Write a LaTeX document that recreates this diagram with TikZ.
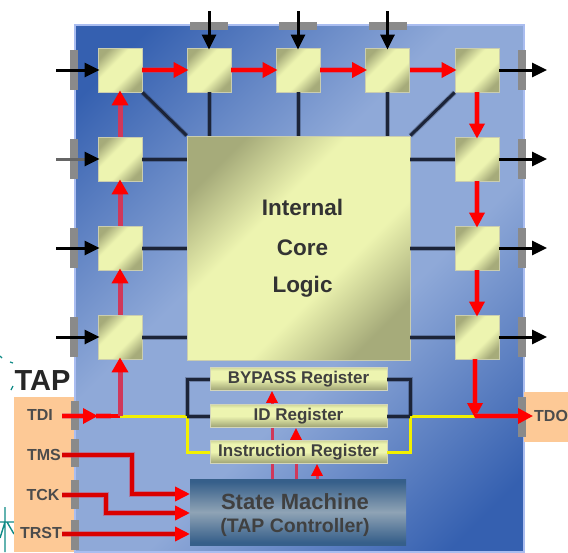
\documentclass[tikz,border=0pt]{standalone}
\usepackage{fontspec}
\setmainfont{Liberation Sans}
\usetikzlibrary{arrows.meta}
\definecolor{paneldark}{HTML}{3560B0}
\definecolor{panellight}{HTML}{8FA9D8}
\definecolor{paneledge}{HTML}{AABDF0}
\definecolor{olive}{HTML}{A6AB7A}
\definecolor{pale}{HTML}{EDF4B0}
\definecolor{peach}{HTML}{FDC996}
\definecolor{pinbar}{HTML}{8A8A8A}
\definecolor{wiredark}{HTML}{1C2438}
\definecolor{crimson}{HTML}{D0385A}
\definecolor{scanyellow}{HTML}{F2F000}
\definecolor{smdark}{HTML}{365F8A}
\definecolor{smlight}{HTML}{8FA3B5}
\definecolor{tealmark}{HTML}{0E8A86}
\pgfdeclarehorizontalshading{panelshade}{100bp}{color(0bp)=(paneldark);color(20bp)=(paneldark);color(42bp)=(panellight);color(58bp)=(panellight);color(80bp)=(paneldark);color(100bp)=(paneldark)}
\pgfdeclarehorizontalshading{cellshade}{100bp}{color(0bp)=(olive);color(24bp)=(olive);color(40bp)=(pale);color(60bp)=(pale);color(76bp)=(olive);color(100bp)=(olive)}
\pgfdeclareverticalshading{regshade}{100bp}{color(0bp)=(olive);color(28bp)=(olive);color(50bp)=(pale);color(68bp)=(pale);color(80bp)=(olive!70!pale);color(100bp)=(olive!70!pale)}
\pgfdeclareverticalshading{smshade}{100bp}{color(0bp)=(smdark);color(27bp)=(smdark);color(50bp)=(smlight);color(73bp)=(smdark);color(100bp)=(smdark)}
\tikzset{
  cellbox/.style={draw=olive!60!white,line width=.8pt,minimum width=44,minimum height=44,inner sep=0,shading=cellshade,shading angle=-45},
  corebox/.style={cellbox,minimum width=223,minimum height=224},
  regbox/.style={draw=olive!50!white,line width=.8pt,minimum width=177,minimum height=23,inner sep=0,shading=regshade,font=\bfseries\fontsize{17}{18}\selectfont,text=black!75},
  smbox/.style={minimum width=216,minimum height=66,inner sep=0,shading=smshade},
  smtext/.style={font=\bfseries\fontsize{#1}{#1}\selectfont,text=black!75,inner sep=0},
  coretext/.style={font=\bfseries\fontsize{22.5}{24}\selectfont,text=black!80,inner sep=0},
  tapbox/.style={fill=peach,inner sep=0},
  pinlabel/.style={font=\bfseries\fontsize{16}{17}\selectfont,text=black!70,inner sep=0},
  pinv/.style={fill=pinbar,inner sep=0,minimum width=7.5,minimum height=#1},
  pinh/.style={fill=pinbar,inner sep=0,minimum width=#1,minimum height=8},
  halo/.style 2 args={preaction={draw=#1,opacity=.45,line width=#2,arrows=-,shorten >=9pt}},
  sigarrow/.style={draw=black,line width=3pt,shorten >=-2pt,-{Triangle[length=15,width=14]}},
  greyarrow/.style={draw=black!60,line width=3pt,shorten >=-2pt,-{Triangle[length=15,width=14,color=black]}},
  scanarrow/.style={draw=red,line width=3.4pt,shorten >=-2pt,halo={crimson}{6pt},-{Triangle[length=15,width=15]}},
  uparrow/.style={draw=crimson,line width=5pt,shorten >=-2pt,-{Triangle[length=15,width=16,color=red]}},
  thinarrow/.style={draw=crimson,line width=3pt,-{Triangle[length=12,width=11,color=red]}},
  stubline/.style={draw=crimson,line width=3pt},
  ctlarrow/.style={draw=red!85!black,line width=3.6pt,halo={crimson}{5.5pt},-{Triangle[length=15,width=14,color=red]}},
  corewire/.style={draw=wiredark,line width=3pt,preaction={draw=wiredark,opacity=.3,line width=5pt}},
  yelwire/.style={draw=scanyellow,line width=3pt},
}
\begin{document}
\begin{tikzpicture}[x=1pt,y=-1pt]
\useasboundingbox (0,0) rectangle (568,552);
% cropped marks at the left edge
\draw[tealmark,line width=1.2pt] (0,356)--(2,358) (10,362)--(13,363) (13,386)--(11,390);
\draw[tealmark,line width=1.4pt] (5,507)--(5,552) (0,522)--(14,522) (5,522)--(0,538) (7,522)--(14,534);
% panel
\node[draw=paneledge,line width=2pt,shading=panelshade,shading angle=-45,minimum width=449,minimum height=527,inner sep=0] (panel) at (299.5,288.5) {};
% peach tabs
\node[tapbox,minimum width=60,minimum height=155] (tap) at (44,474.5) {};
\node[tapbox,minimum width=44,minimum height=50] (tdotab) at (546,417) {};
\node[font=\bfseries\fontsize{29}{30}\selectfont,text=black!85,inner sep=0] (taptitle) at (42.5,381) {TAP};
% pin bars
\foreach \n/\y in {l1/70,l2/159,l3/248,l4/337}{\node[pinv=40] (bar\n) at (74,\y) {};}
\foreach \n/\y in {r1/70,r2/159,r3/248,r4/337}{\node[pinv=40] (bar\n) at (522,\y) {};}
\foreach \n/\x in {t2/209,t3/298,t4/387.5}{\node[pinh=38] (bar\n) at (\x,25.5) {};}
\node[pinv=29] (bartdi) at (75,415) {};
\node[pinv=28] (bartms) at (75,453) {};
\node[pinv=29] (bartck) at (75,494) {};
\node[pinv=30] (bartrst) at (75,535) {};
\node[pinv=40] (bartdo) at (522,417) {};
% boundary cells
\node[corebox] (core) at (298.5,248) {};
\node[cellbox] (c1) at (120,70) {};
\node[cellbox] (c2) at (209,70) {};
\node[cellbox] (c3) at (298,70) {};
\node[cellbox] (c4) at (387.5,70) {};
\node[cellbox] (c5) at (477,70) {};
\node[cellbox] (l2) at (120,159) {};
\node[cellbox] (l3) at (120,248) {};
\node[cellbox] (l4) at (120,337) {};
\node[cellbox] (r2) at (477,159) {};
\node[cellbox] (r3) at (477,248) {};
\node[cellbox] (r4) at (477,337) {};
\node[coretext] (t1) at (302.5,207) {Internal};
\node[coretext] (t2) at (302.5,248) {Core};
\node[coretext] (t3) at (302.5,287) {Logic};
% registers
\node[regbox] (byp) at (298.5,379) {BYPASS Register};
\node[regbox] (idr) at (298.5,416) {ID Register};
\node[regbox] (ins) at (298.5,452) {Instruction Register};
\node[smbox] (sm) at (298,512) {};
\node[smtext=22] (smt1) at (295,502) {State Machine};
\node[smtext=19.5] (smt2) at (295,527) {(TAP Controller)};
% pin labels
\node[pinlabel] (ltdi) at (40,415) {TDI};
\node[pinlabel] (ltms) at (44,455) {TMS};
\node[pinlabel] (ltck) at (43,495) {TCK};
\node[pinlabel] (ltrst) at (41,533) {TRST};
\node[pinlabel,anchor=west] (ltdo) at (534,416) {TDO};
% free ends
\foreach \n/\y in {1/70,2/159,3/248,4/337}{\coordinate (inl\n) at (56,\y); \coordinate (outr\n) at (545,\y);}
\foreach \n/\x in {2/209,3/298,4/387.5}{\coordinate (intop\n) at (\x,11);}
% external pins
\draw[sigarrow] (inl1) -- (c1.west);
\draw[greyarrow] (inl2) -- (l2.west);
\draw[sigarrow] (inl3) -- (l3.west);
\draw[sigarrow] (inl4) -- (l4.west);
\draw[sigarrow] (intop2) -- (c2.north);
\draw[sigarrow] (intop3) -- (c3.north);
\draw[sigarrow] (intop4) -- (c4.north);
\draw[sigarrow] (c5.east) -- (outr1);
\draw[sigarrow] (r2.east) -- (outr2);
\draw[sigarrow] (r3.east) -- (outr3);
\draw[sigarrow] (r4.east) -- (outr4);
% core wires
\draw[corewire] (c1.south east) -- (core.north west);
\draw[corewire] (c5.south west) -- (core.north east);
\draw[corewire] (c2.south) -- (c2.south |- core.north);
\draw[corewire] (c3.south) -- (c3.south |- core.north);
\draw[corewire] (c4.south) -- (c4.south |- core.north);
\foreach \c in {l2,l3,l4}{\draw[corewire] (\c.east) -- (\c.east -| core.west);}
\foreach \c in {r2,r3,r4}{\draw[corewire] (\c.west) -- (\c.west -| core.east);}
% scan chain
\draw[scanarrow] (c1.east) -- (c2.west);
\draw[scanarrow] (c2.east) -- (c3.west);
\draw[scanarrow] (c3.east) -- (c4.west);
\draw[scanarrow] (c4.east) -- (c5.west);
\draw[scanarrow] (c5.south) -- (r2.north);
\draw[scanarrow] (r2.south) -- (r3.north);
\draw[scanarrow] (r3.south) -- (r4.north);
\draw[uparrow] (l2.north) -- (c1.south);
\draw[uparrow] (l3.north) -- (l2.south);
\draw[uparrow] (l4.north) -- (l3.south);
% TDI / TDO and register wiring
\coordinate (jin) at (120,416);
\coordinate (jl) at (187,416);
\coordinate (jr) at (410,416);
\coordinate (jout) at (475,416);
\coordinate (tdiend) at (62,416);
\coordinate (tditip) at (96,416);
\coordinate (tdoend) at (531,416);
\draw[yelwire] (jin) -- (jl);
\draw[yelwire] (jl) |- (ins.west);
\draw[yelwire] (jr) -- (jout);
\draw[yelwire] (jr) |- (ins.east);
\draw[corewire] (jl) |- (byp.west);
\draw[corewire] (jl) -- (idr.west);
\draw[corewire] (jr) |- (byp.east);
\draw[corewire] (jr) -- (idr.east);
\draw[draw=red,line width=3.4pt,halo={crimson}{6pt}] (tditip) -- (jin);
\draw[scanarrow] (tdiend) -- (tditip);
\draw[uparrow] (jin) -- (l4.south);
\draw[scanarrow] (r4.south -| jout) -- (jout);
\draw[scanarrow] (jout) -- (tdoend);
% arrows between the registers
\coordinate (a1) at (272,479);
\coordinate (a2) at (296,479);
\coordinate (a3) at (317,479);
\draw[stubline] (a1) -- (a1 |- ins.south);
\draw[stubline] (a1 |- ins.north) -- (a1 |- idr.south);
\draw[thinarrow] (a1 |- idr.north) -- (a1 |- byp.south);
\draw[stubline] (a2) -- (a2 |- ins.south);
\draw[thinarrow] (a2 |- ins.north) -- (a2 |- idr.south);
\draw[thinarrow] (a3) -- (a3 |- ins.south);
% control pins
\coordinate (tmsout) at (62,455);
\coordinate (tmsb1) at (132,455);
\coordinate (tmsb2) at (132,494);
\coordinate (tmsin) at (190,494);
\coordinate (tckout) at (62,495);
\coordinate (tckb1) at (106,495);
\coordinate (tckb2) at (106,513);
\coordinate (tckin) at (190,513);
\coordinate (trstout) at (62,534);
\coordinate (trstin) at (190,534);
\draw[ctlarrow] (tmsout) -- (tmsb1) -- (tmsb2) -- (tmsin);
\draw[ctlarrow] (tckout) -- (tckb1) -- (tckb2) -- (tckin);
\draw[ctlarrow] (trstout) -- (trstin);
\end{tikzpicture}
\end{document}
